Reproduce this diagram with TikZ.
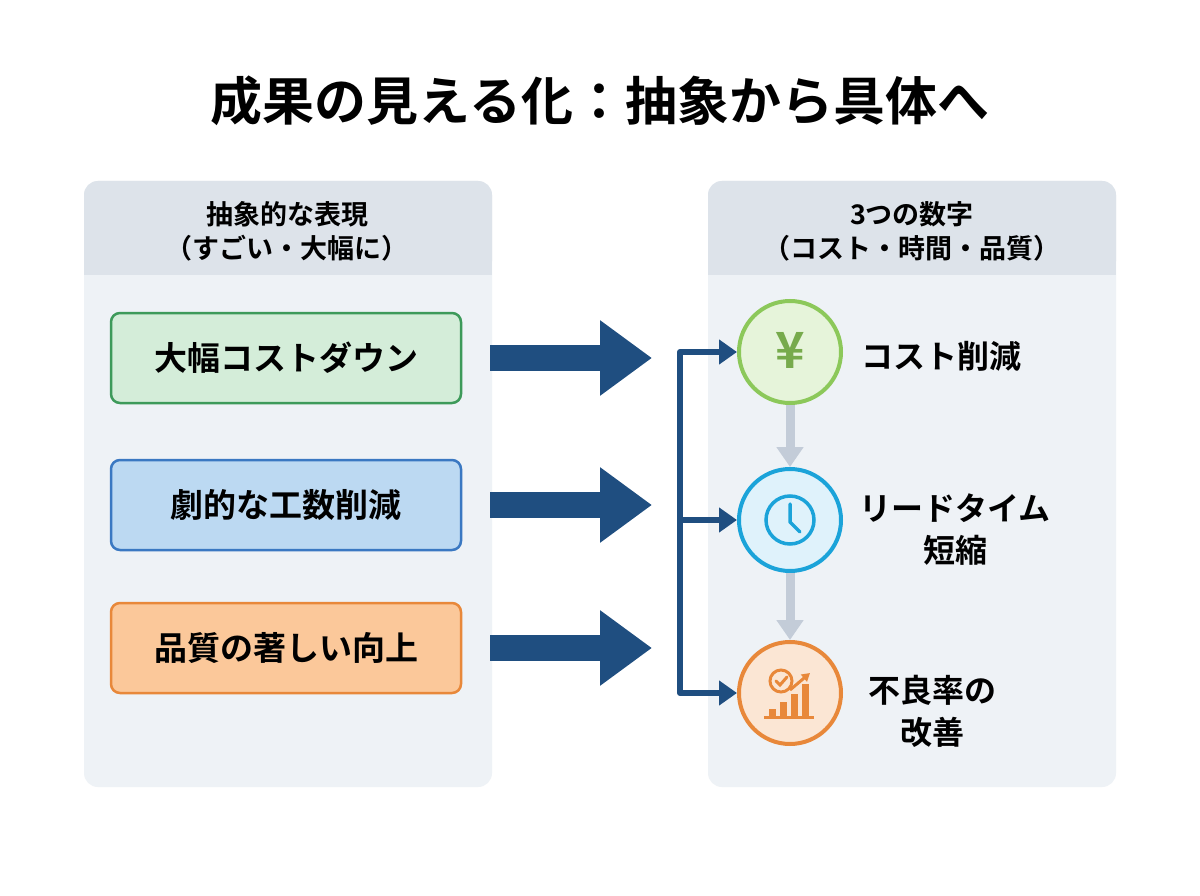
\documentclass[tikz,border=0pt]{standalone}
\usepackage{fontspec}
\setmainfont{Noto Sans CJK JP}[BoldFont={Noto Sans CJK JP Bold}]
\usetikzlibrary{arrows.meta}
\definecolor{hdr}{HTML}{DDE3EA}\definecolor{pbody}{HTML}{EEF2F6}
\definecolor{navy}{HTML}{1F4E80}\definecolor{gry}{HTML}{C3CCD8}
\definecolor{gF}{HTML}{D4EDD9}\definecolor{gB}{HTML}{3D9A5A}
\definecolor{bF}{HTML}{BCD9F2}\definecolor{bB}{HTML}{3A78C2}
\definecolor{oF}{HTML}{FBC89A}\definecolor{oB}{HTML}{E8883A}
\definecolor{cgB}{HTML}{8CC85A}\definecolor{cgF}{HTML}{E6F4DA}
\definecolor{cbB}{HTML}{1BA3D9}\definecolor{cbF}{HTML}{DFF2FB}
\definecolor{coF}{HTML}{FBE6D4}
\tikzset{
 box/.style={draw=#1,line width=2.5pt,rounded corners=9pt,minimum width=350pt,minimum height=90pt,font=\bfseries\fontsize{33}{36}\selectfont},
 circ/.style={circle,line width=4pt,minimum size=102pt},
 lbl/.style={font=\bfseries\fontsize{32}{42}\selectfont,align=center},
 hd/.style={font=\bfseries\fontsize{27}{34}\selectfont,align=center},
 big/.style={navy,line width=26pt,-{Triangle[length=52pt,width=72pt]}},
 brk/.style={navy,line width=6pt,-{Triangle[length=18pt,width=24pt]}},
 down/.style={gry,line width=9pt,-{Triangle[length=20pt,width=26pt]}}
}
\begin{document}
\begin{tikzpicture}[x=1pt,y=-1pt]
\useasboundingbox[fill=white] (0,0) rectangle (1200,896);
\node[font=\bfseries\fontsize{52}{56}\selectfont] (title) at (600,101) {成果の見える化：抽象から具体へ};
% panels
\foreach \x/\n in {84/L,708/R}{
 \fill[pbody,rounded corners=14pt] (\x,181) rectangle ++(408,606);
 \fill[hdr,rounded corners=14pt] (\x,181) rectangle ++(408,94);
 \fill[hdr] (\x,240) rectangle ++(408,35);
}
\node[hd] (hl) at (287,231) {抽象的な表現\\（すごい・大幅に）};
\node[hd] (hr) at (912,231) {3つの数字\\（コスト・時間・品質）};
\node[box=gB,fill=gF] (a1) at (286,358) {大幅コストダウン};
\node[box=bB,fill=bF] (a2) at (286,505) {劇的な工数削減};
\node[box=oB,fill=oF] (a3) at (286,648) {品質の著しい向上};
\foreach \y/\n in {358/1,505/2,648/3}{
 \coordinate (s\n) at (490,\y); \coordinate (e\n) at (652,\y);
 \draw[big] (s\n) -- (e\n);}
% circles
\node[circ,draw=cgB,fill=cgF] (c1) at (790,352) {};
\node[circ,draw=cbB,fill=cbF] (c2) at (790,520) {};
\node[circ,draw=oB,fill=coF] (c3) at (790,693) {};
\draw[down] (c1.south) -- (c2.north);
\draw[down] (c2.south) -- (c3.north);
% bracket
\coordinate (b1) at (680,352); \coordinate (b2) at (680,520); \coordinate (b3) at (680,693);
\draw[navy,line width=6pt,line join=round] (700,352) -- (b1) -- (b3) -- (700,693);
\draw[brk] (b1) -- (c1.west);
\draw[brk] (b2) -- (c2.west);
\draw[brk] (b3) -- (c3.west);
% icons
\node[text=cgB!85!black,font=\bfseries\fontsize{50}{52}\selectfont] (yen) at (790,350) {¥};
\draw[cbB,line width=3.5pt] (790,520) circle (24);
\draw[cbB,line width=3.5pt,line cap=round,line join=round] (790,504) -- (790,522) -- (800,532);
\begin{scope}[oB,line width=3pt]
 \draw (781,681) circle (11);
 \draw[line cap=round] (776,681) -- (780,685) -- (787,677);
 \fill (769,709) rectangle (776,716);
 \fill (780,702) rectangle (787,716);
 \fill (791,694) rectangle (798,716);
 \fill (802,684) rectangle (809,716);
 \fill (764,716) rectangle (814,719);
 \draw[-{Triangle[length=8pt,width=9pt]}] (790,690) -- (810,673);
\end{scope}
\node[lbl,anchor=west] (t1) at (858,356) {コスト削減};
\node[lbl] (t2) at (955,530) {リードタイム\\短縮};
\node[lbl] (t3) at (932,711) {不良率の\\改善};
\end{tikzpicture}
\end{document}
